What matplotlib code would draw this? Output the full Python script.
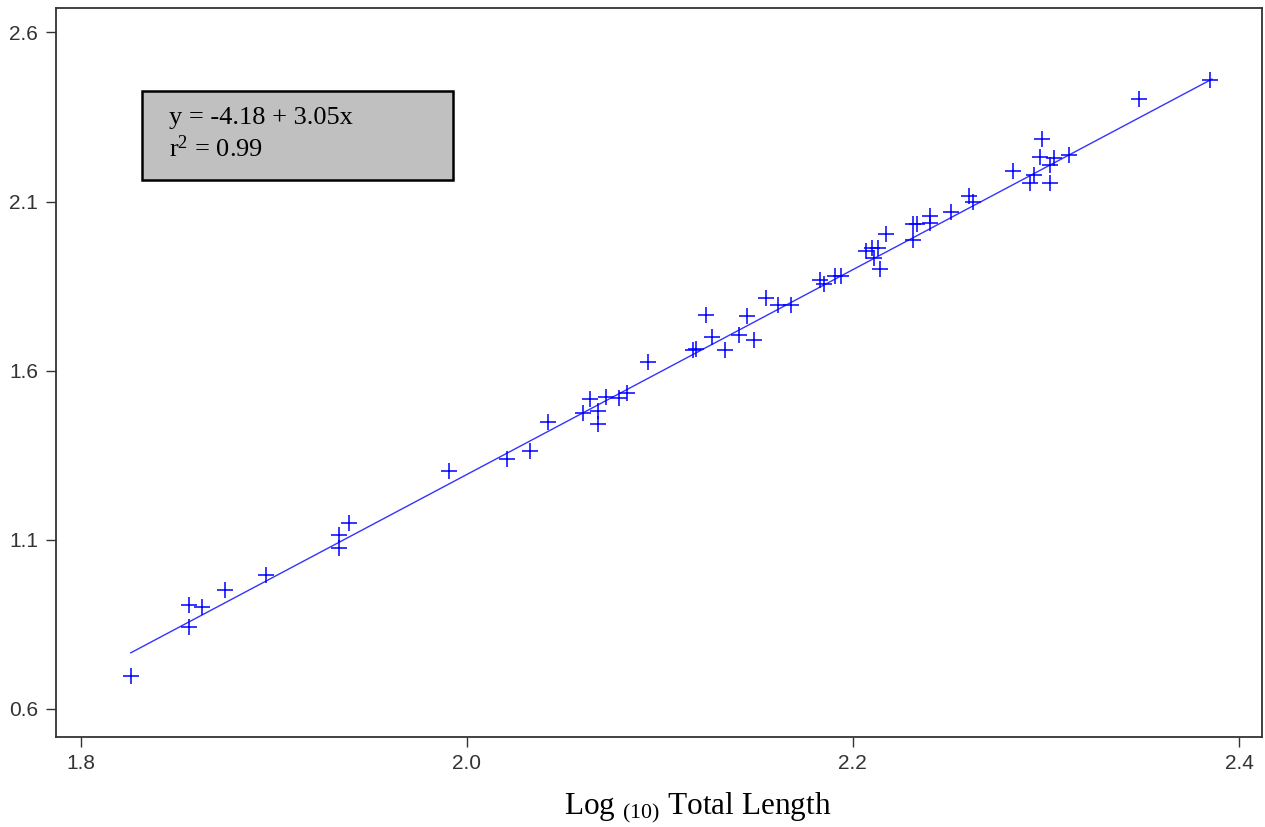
import matplotlib
matplotlib.use("Agg")
import matplotlib.pyplot as plt
from matplotlib.patches import Rectangle

# log10 total length vs log10 weight
log_len = [1.826, 1.856, 1.856, 1.863, 1.875, 1.896, 1.934, 1.934, 1.939, 1.991,
           2.021, 2.033, 2.042, 2.060, 2.064, 2.068, 2.068, 2.072, 2.079, 2.083,
           2.094, 2.117, 2.119, 2.124, 2.127, 2.134, 2.141, 2.145, 2.149, 2.155,
           2.161, 2.168, 2.183, 2.185, 2.191, 2.194, 2.207, 2.210, 2.211, 2.213,
           2.214, 2.217, 2.231, 2.231, 2.233, 2.240, 2.240, 2.251, 2.260, 2.262,
           2.283, 2.292, 2.294, 2.297, 2.298, 2.302, 2.302, 2.304, 2.312, 2.348,
           2.385]
log_wt = [0.699, 0.907, 0.843, 0.902, 0.953, 0.997, 1.114, 1.076, 1.150, 1.305,
          1.340, 1.362, 1.447, 1.475, 1.516, 1.480, 1.443, 1.521, 1.519, 1.534,
          1.625, 1.662, 1.664, 1.765, 1.700, 1.662, 1.706, 1.763, 1.692, 1.815,
          1.795, 1.795, 1.867, 1.857, 1.879, 1.879, 1.955, 1.963, 1.933, 1.963,
          1.900, 2.005, 1.987, 2.034, 2.034, 2.058, 2.036, 2.068, 2.117, 2.100,
          2.191, 2.156, 2.179, 2.231, 2.285, 2.155, 2.209, 2.228, 2.238, 2.403,
          2.458]

# fitted line as drawn
line_x = [1.826, 2.386]
line_y = [0.766, 2.462]

xticks = [1.8, 2.0, 2.2, 2.4]
yticks = [0.6, 1.1, 1.6, 2.1, 2.6]

plt.rcParams['mathtext.fontset'] = 'custom'
plt.rcParams['mathtext.rm'] = 'Liberation Serif'
plt.rcParams['mathtext.it'] = 'Liberation Serif'

fig = plt.figure(figsize=(12.65, 8.27), dpi=100)
ax = fig.add_axes([56 / 1265, 1 - 737 / 827, 1206 / 1265, 729 / 827])

ax.plot(line_x, line_y, '-', color='#3333ff', lw=1.0)
ax.plot(log_len, log_wt, '+', color='#0000ff', ms=11, mew=1.1)

ax.set_xlim(1.7873, 2.4119)
ax.set_ylim(0.5172, 2.6722)
ax.set_xticks(xticks)
ax.set_yticks(yticks)
ax.set_xticklabels(['%.1f' % v for v in xticks])
ax.set_yticklabels(['%.1f' % v for v in yticks])

for lab in ax.get_xticklabels() + ax.get_yticklabels():
    lab.set_family(['Liberation Sans', 'DejaVu Sans'])
    lab.set_fontsize(15)
    lab.set_color('#333333')
ax.tick_params(direction='out', length=7, width=1, color='#333333')
ax.tick_params(axis='x', pad=5)
ax.tick_params(axis='y', pad=6)

for s in ax.spines.values():
    s.set_color('#333333')
    s.set_linewidth(1.3)

ax.set_xlabel(r'Log $_{\mathrm{(10)}}$ Total Length', family='Liberation Serif', fontsize=22.5)
ax.xaxis.set_label_coords((698 - 56) / 1206, -0.073)

# equation box
ax.add_patch(Rectangle((0.0713, 0.7641), 0.2579, 0.122, transform=ax.transAxes,
                       fc='#c0c0c0', ec='black', lw=1.8, zorder=3))
ax.text(0.0937, 0.849, 'y = -4.18 + 3.05x', transform=ax.transAxes,
        family='Liberation Serif', fontsize=19, va='center', ha='left', zorder=4)
ax.text(0.0937, 0.8066, r'r$^{2}$ = 0.99', transform=ax.transAxes,
        family='Liberation Serif', fontsize=19, va='center', ha='left', zorder=4)

plt.savefig('out.png', dpi=100)
plt.close()
